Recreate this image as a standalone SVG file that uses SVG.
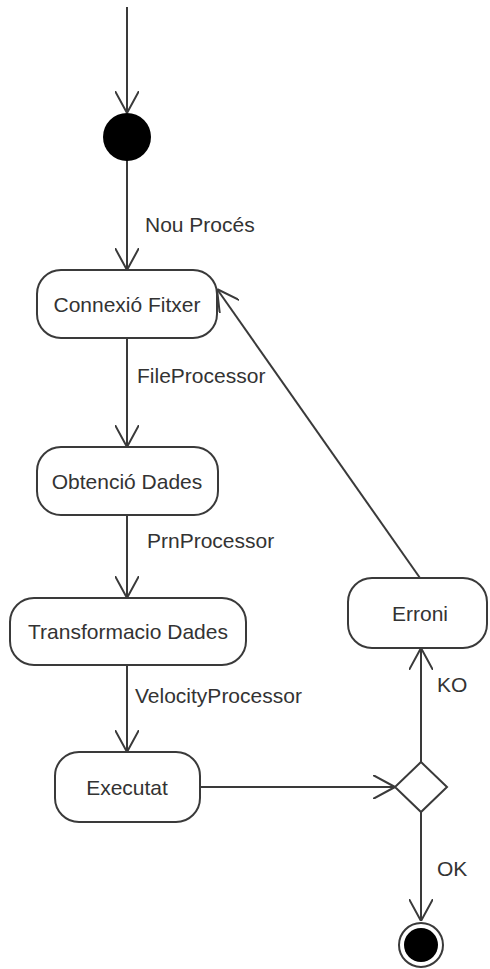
<svg xmlns="http://www.w3.org/2000/svg" width="490" height="969" viewBox="0 0 490 969">
<style>
.node rect{fill:#fff;stroke:#3a3a3a;stroke-width:2}
.lbl{font-family:"Liberation Sans",Arial,sans-serif;font-size:21px;fill:#333}
.ctr{text-anchor:middle;dominant-baseline:central}
.edge{stroke:#3a3a3a;stroke-width:2;fill:none;marker-end:url(#arr)}
</style>
<defs>
<marker id="arr" viewBox="0 0 22 24" refX="22" refY="12" markerWidth="22" markerHeight="24" orient="auto" markerUnits="userSpaceOnUse">
<path d="M0,0 L22,12 L0,24" fill="none" stroke="#3a3a3a" stroke-width="2"/>
</marker>
</defs>
<g id="connectors">
<line class="edge" x1="127" y1="7" x2="127" y2="113"/>
<line class="edge" x1="127" y1="160" x2="127" y2="270"/>
<line class="edge" x1="127" y1="338" x2="127" y2="447"/>
<line class="edge" x1="127" y1="515" x2="127" y2="598"/>
<line class="edge" x1="127" y1="665" x2="127" y2="752"/>
<line class="edge" x1="200" y1="787" x2="395" y2="787"/>
<line class="edge" x1="421" y1="762" x2="421" y2="648"/>
<line class="edge" x1="420" y1="578" x2="217" y2="289"/>
<line class="edge" x1="421" y1="812" x2="421" y2="921"/>
<text class="lbl" x="145" y="224" dominant-baseline="central">Nou Procés</text>
<text class="lbl" x="137" y="375" dominant-baseline="central">FileProcessor</text>
<text class="lbl" x="147" y="540" dominant-baseline="central">PrnProcessor</text>
<text class="lbl" x="135" y="695" dominant-baseline="central">VelocityProcessor</text>
<text class="lbl" x="437" y="684" dominant-baseline="central">KO</text>
<text class="lbl" x="437" y="868" dominant-baseline="central">OK</text>
</g>
<g id="start"><circle cx="127" cy="137" r="24" fill="#000"/></g>
<g id="n1" class="node"><rect x="37" y="270" width="180" height="68" rx="24"/><text class="lbl ctr" x="127" y="304">Connexió Fitxer</text></g>
<g id="n2" class="node"><rect x="37" y="447" width="181" height="68" rx="24"/><text class="lbl ctr" x="127" y="481">Obtenció Dades</text></g>
<g id="n3" class="node"><rect x="10" y="598" width="236" height="67" rx="24"/><text class="lbl ctr" x="128" y="631">Transformacio Dades</text></g>
<g id="n4" class="node"><rect x="55" y="752" width="145" height="70" rx="24"/><text class="lbl ctr" x="127" y="787">Executat</text></g>
<g id="n5" class="node"><rect x="348" y="578" width="139" height="70" rx="24"/><text class="lbl ctr" x="420" y="613">Erroni</text></g>
<g id="decision"><polygon points="421,762 447,787 421,812 395,787" fill="#fff" stroke="#3a3a3a" stroke-width="2"/></g>
<g id="end"><circle cx="421" cy="945" r="22" fill="#fff" stroke="#3a3a3a" stroke-width="2"/><circle cx="421" cy="945" r="17" fill="#000"/></g>
</svg>
